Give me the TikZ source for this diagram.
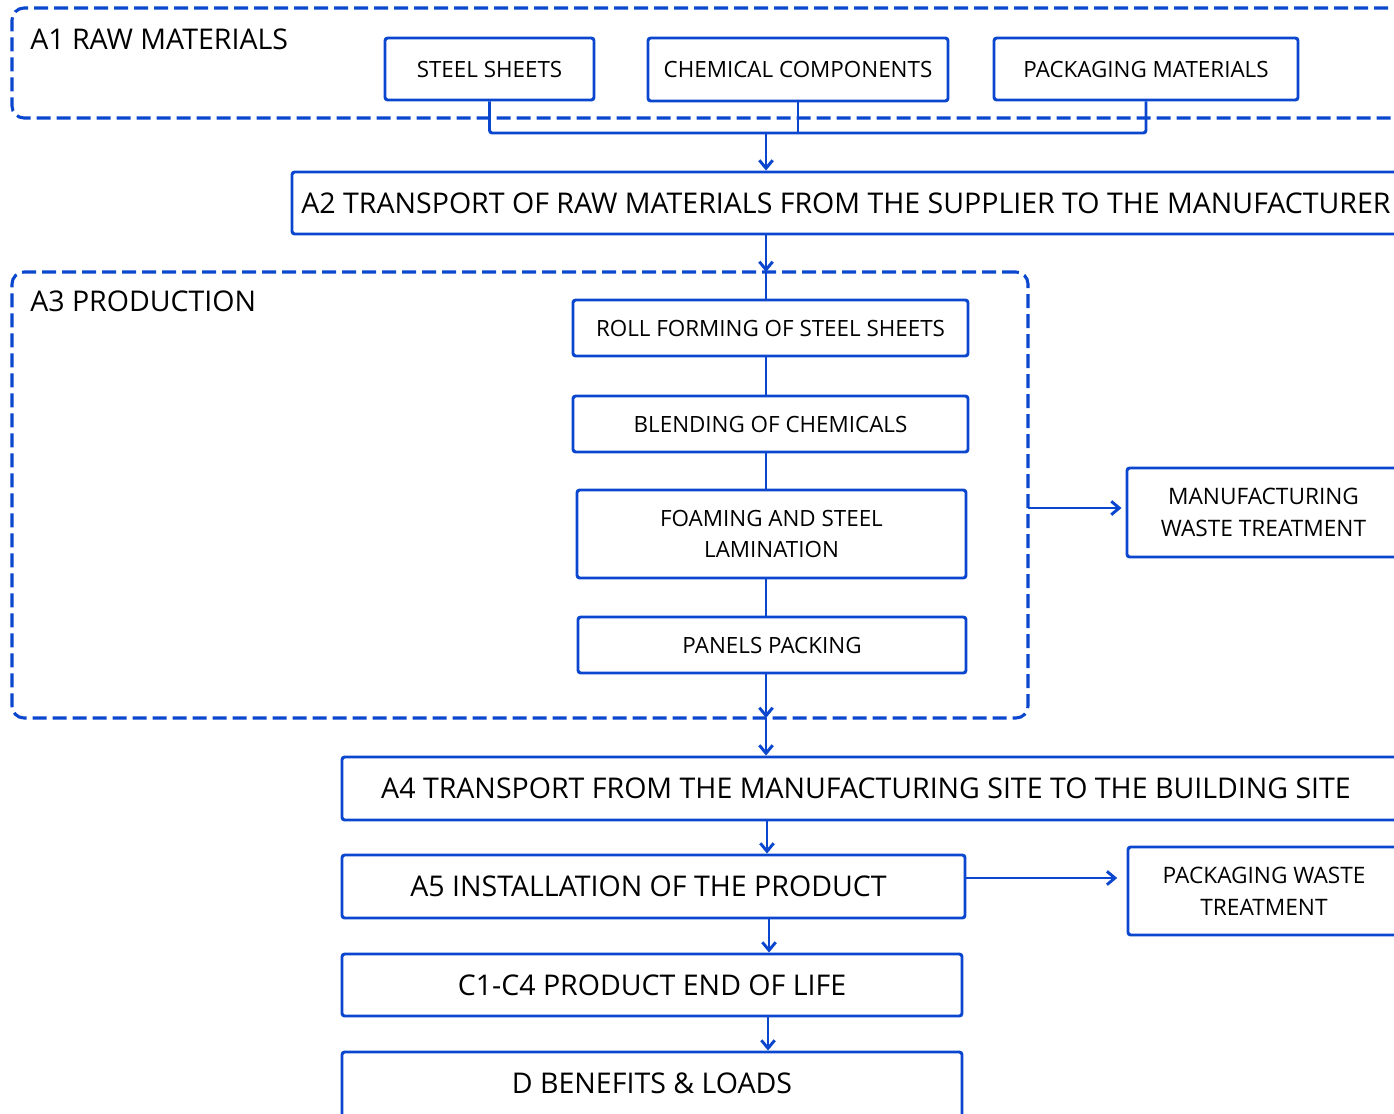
\documentclass[tikz,border=0pt]{standalone}
\usepackage{fontspec}
\setmainfont{Open Sans}
\usetikzlibrary{arrows.meta}
\definecolor{lineblue}{HTML}{0B47CE}
\begin{document}
\begin{tikzpicture}[x=0.75pt,y=-0.75pt,
  box/.style={draw=lineblue, line width=2.2pt, rounded corners=2pt, inner sep=0pt, align=center, text=black},
  group/.style={draw=lineblue, line width=2.3pt, rounded corners=9pt, dash pattern=on 10.5pt off 4.5pt, inner sep=0pt},
  smalltxt/.style={font=\fontsize{16.8}{23.5}\selectfont},
  midtxt/.style={font=\fontsize{17}{24}\selectfont},
  bigtxt/.style={font=\fontsize{21.4}{26}\selectfont},
  grouptxt/.style={font=\fontsize{21.4}{24}\selectfont, anchor=base west, inner sep=0pt, text=black},
  link/.style={draw=lineblue, line width=2.2pt, rounded corners=2pt},
  arr/.style={link, -{Straight Barb[length=6pt,width=10pt,line width=2.2pt]}},
]
\useasboundingbox (0,0) rectangle (1394,1113);
\clip (0,0) rectangle (1394,1113);

% A1 group
\node[group, minimum width=1408*0.75pt, minimum height=110*0.75pt] (a1) at (716,63) {};
\node[grouptxt] (a1t) at (30,50) {A1 RAW MATERIALS};
\node[box, smalltxt, minimum width=209*0.75pt, minimum height=62*0.75pt] (steel) at (489.5,69) {STEEL SHEETS};
\node[box, smalltxt, minimum width=300*0.75pt, minimum height=63*0.75pt] (chem) at (798,69.5) {CHEMICAL COMPONENTS};
\node[box, smalltxt, minimum width=304*0.75pt, minimum height=62*0.75pt] (pack) at (1146,69) {PACKAGING MATERIALS};

\coordinate (j1) at (766,133);
\draw[link] (steel.south) |- (j1) -| (pack.south);
\draw[link] (chem.south) -- (chem.south |- j1);

% A2
\node[box, bigtxt, minimum width=1108*0.75pt, minimum height=62*0.75pt] (a2) at (846,203) {A2 TRANSPORT OF RAW MATERIALS FROM THE SUPPLIER TO THE MANUFACTURER};
\draw[arr] (j1) -- (j1 |- a2.north);

% A3 group
\node[group, minimum width=1016*0.75pt, minimum height=446*0.75pt] (a3) at (520,495) {};
\node[grouptxt] (a3t) at (30,311) {A3 PRODUCTION};
\node[box, smalltxt, minimum width=395*0.75pt, minimum height=56*0.75pt] (roll) at (770.5,328) {ROLL FORMING OF STEEL SHEETS};
\node[box, smalltxt, minimum width=395*0.75pt, minimum height=56*0.75pt] (blend) at (770.5,424) {BLENDING OF CHEMICALS};
\node[box, smalltxt, minimum width=389*0.75pt, minimum height=88*0.75pt] (foam) at (771.5,534) {FOAMING AND STEEL\\LAMINATION};
\node[box, smalltxt, minimum width=388*0.75pt, minimum height=56*0.75pt] (panels) at (772,645) {PANELS PACKING};

\coordinate (c3top) at (766,272);
\coordinate (c3bot) at (766,718);
\draw[arr] (a2.south -| c3top) -- (c3top);
\draw[link] (c3top) -- (c3top |- roll.north);
\draw[link] (roll.south -| c3top) -- (blend.north -| c3top);
\draw[link] (blend.south -| c3top) -- (foam.north -| c3top);
\draw[link] (foam.south -| c3top) -- (panels.north -| c3top);
\draw[arr] (panels.south -| c3top) -- (c3bot);

% manufacturing waste
\node[box, midtxt, minimum width=273*0.75pt, minimum height=89*0.75pt] (mfg) at (1263.5,512.5) {MANUFACTURING\\WASTE TREATMENT};
\coordinate (c3r) at (1028,508);
\draw[arr, shorten >=3pt] (c3r) -- (c3r -| mfg.west);

% A4
\node[box, bigtxt, minimum width=1058*0.75pt, minimum height=63*0.75pt] (a4) at (871,788.5) {A4 TRANSPORT FROM THE MANUFACTURING SITE TO THE BUILDING SITE\hspace*{7.5pt}};
\draw[arr] (c3bot) -- (c3bot |- a4.north);

% A5
\node[box, bigtxt, minimum width=623*0.75pt, minimum height=63*0.75pt] (a5) at (653.5,886.5) {A5 INSTALLATION OF THE PRODUCT\hspace*{7.5pt}};
\coordinate (c4) at (767,820);
\draw[arr] (a4.south -| c4) -- (a5.north -| c4);

\node[box, midtxt, minimum width=272*0.75pt, minimum height=88*0.75pt] (pw) at (1264,891) {PACKAGING WASTE\\TREATMENT};
\draw[arr, shorten >=7pt] (a5.east |- 0,878) -- (pw.west |- 0,878);

% C1-C4
\node[box, bigtxt, minimum width=620*0.75pt, minimum height=62*0.75pt] (c1) at (652,985) {C1-C4 PRODUCT END OF LIFE};
\coordinate (c5) at (769,918);
\draw[arr] (a5.south -| c5) -- (c1.north -| c5);

% D
\node[box, bigtxt, minimum width=620*0.75pt, minimum height=80*0.75pt] (d) at (652,1092) {\raisebox{13pt}{D BENEFITS \& LOADS}};
\coordinate (c6) at (768,1016);
\draw[arr] (c1.south -| c6) -- (d.north -| c6);
\end{tikzpicture}
\end{document}
